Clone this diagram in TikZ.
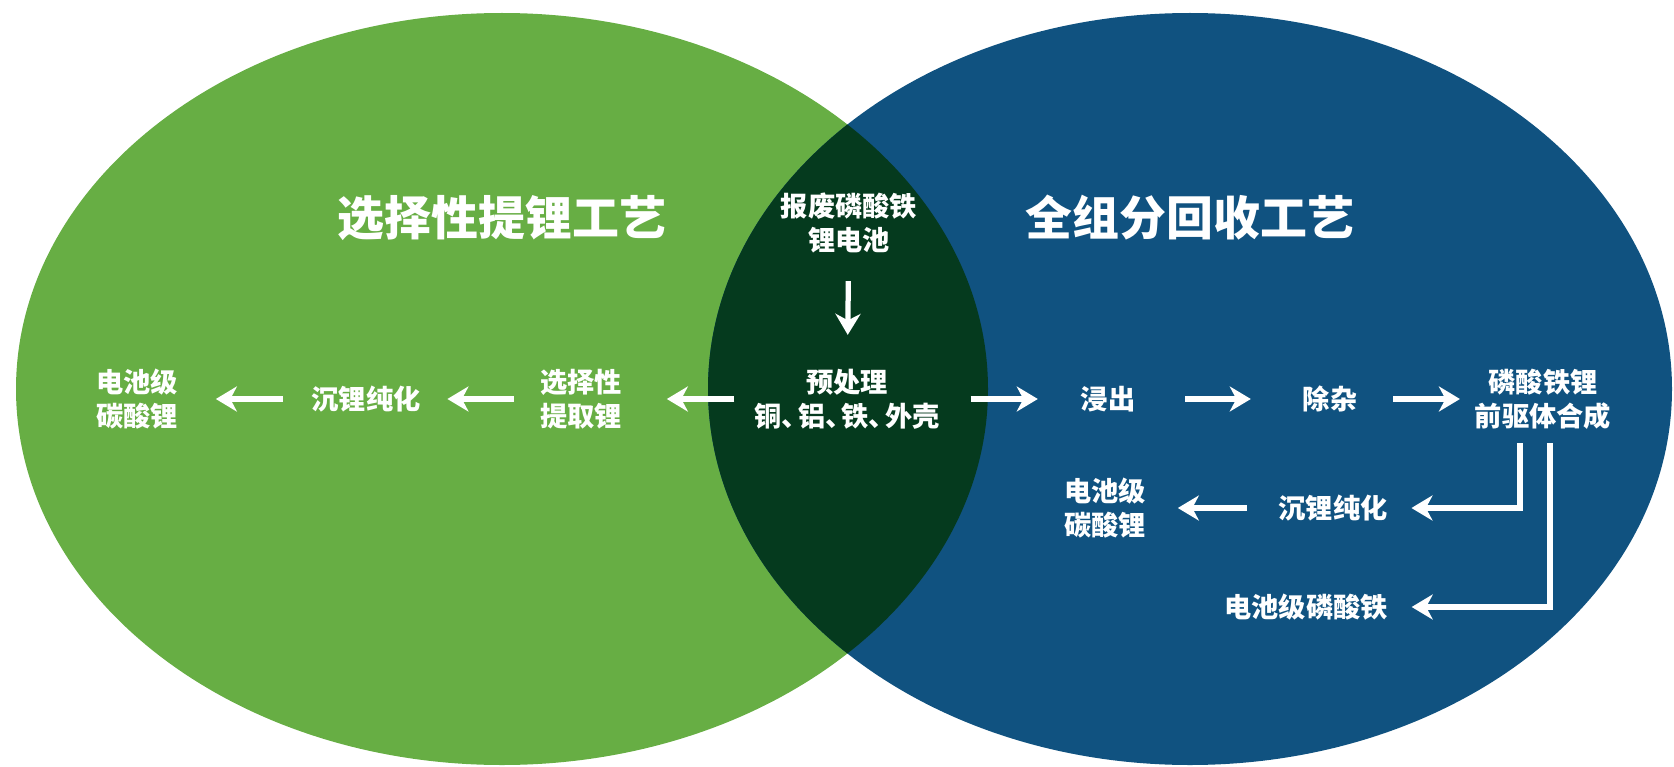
\documentclass[tikz,border=0pt]{standalone}
\usepackage{fontspec}
\newfontfamily\cjk{Noto Sans CJK SC}
\usetikzlibrary{arrows.meta}
\definecolor{selgreen}{RGB}{103,174,68}
\definecolor{allblue}{RGB}{16,82,128}
\definecolor{overlap}{RGB}{5,58,30}
\newcommand{\dun}{、\kern-0.4em}
\tikzset{
  stage/.style={text=white, font=\cjk\bfseries\fontsize{15.5}{19.4}\selectfont, align=center, inner sep=0pt, outer sep=0pt},
  heading/.style={text=white, font=\cjk\bfseries\fontsize{26.7}{30}\selectfont, inner sep=0pt},
  flow/.style={draw=white, line width=0.105cm, -{Stealth[length=0.42cm,width=0.5cm,inset=0.13cm]}},
}
\begin{document}
\begin{tikzpicture}[x=0.02cm, y=-0.02cm]
    \useasboundingbox (0,0) rectangle (1674,767);
    % the two process circles
    \fill[selgreen] (502,389) ellipse [x radius=486, y radius=376];
    \fill[allblue] (1190,389) ellipse [x radius=482, y radius=376];
    \begin{scope}
        \clip (502,389) ellipse [x radius=486, y radius=376];
        \fill[overlap] (1190,389) ellipse [x radius=482, y radius=376];
    \end{scope}

    \node[heading] (seltitle) at (502,218) {选择性提锂工艺};
    \node[heading] (alltitle) at (1190,218) {全组分回收工艺};

    % shared steps
    \node[stage] (waste) at (849,223) {报废磷酸铁\\锂电池};
    \node[stage] (pretreat) at (847,399) {预处理\\铜\dun 铝\dun 铁\dun 外壳};

    % selective route
    \node[stage] (selext) at (581,399) {选择性\\提取锂};
    \node[stage] (selpur) at (366,399) {沉锂纯化};
    \node[stage] (sellic) at (137,399) {电池级\\碳酸锂};

    % full recovery route
    \node[stage] (leach) at (1108,399) {浸出};
    \node[stage] (impur) at (1330,399) {除杂};
    \node[stage] (precursor) at (1543,399) {磷酸铁锂\\前驱体合成};
    \node[stage] (allpur) at (1333,508) {沉锂纯化};
    \node[stage] (alllic) at (1105,508) {电池级\\碳酸锂};
    \node[stage] (fepo) at (1306,607) {电池级磷酸铁};

    \draw[flow, shorten <=0.56cm, shorten >=0.68cm] (waste) -- (pretreat);
    \draw[flow, shorten <=0.4cm, shorten >=0.9cm] (pretreat) -- (selext);
    \draw[flow, shorten <=0.52cm, shorten >=0.54cm] (selext) -- (selpur);
    \draw[flow, shorten <=0.58cm, shorten >=0.76cm] (selpur) -- (sellic);
    \draw[flow, shorten <=0.62cm, shorten >=0.86cm] (pretreat) -- (leach);
    \draw[flow, shorten <=1.0cm, shorten >=1.04cm] (leach) -- (impur);
    \draw[flow, shorten <=0.72cm, shorten >=0.3cm] (impur) -- (precursor);
    \draw[flow, shorten <=0.28cm, shorten >=0.48cm] ([xshift=-0.46cm]precursor.south) |- (allpur);
    \draw[flow, shorten <=0.64cm, shorten >=0.64cm] (allpur) -- (alllic);
    \draw[flow, shorten <=0.28cm, shorten >=0.48cm] ([xshift=0.14cm]precursor.south) |- (fepo);
\end{tikzpicture}
\end{document}
